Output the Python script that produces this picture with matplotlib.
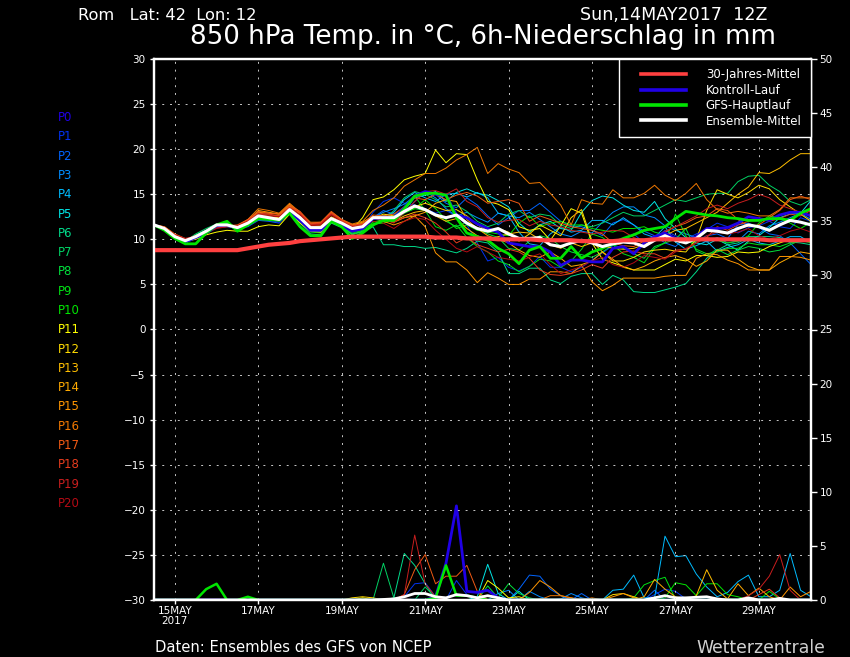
import numpy as np
import matplotlib
matplotlib.use('Agg')
import matplotlib.pyplot as plt
from matplotlib.lines import Line2D
from matplotlib.legend_handler import HandlerLine2D

# 6-hourly steps starting 14 May 2017 12Z
steps = np.arange(64)
date_ticks = [2, 10, 18, 26, 34, 42, 50, 58]
date_labels = ['15MAY\n2017', '17MAY', '19MAY', '21MAY', '23MAY', '25MAY', '27MAY', '29MAY']

member_names = ['P%d' % i for i in range(21)]
member_colors = ['#2000e6', '#0032f0', '#0064ff', '#008cff', '#00bcff', '#00e6e6', '#00dc8c',
                 '#00d264', '#00e13c', '#00e114', '#00e600', '#ffff00', '#ffdc00', '#ffbe00',
                 '#ffaa00', '#ff9600', '#f07800', '#f05a14', '#e63c1e', '#c81e1e', '#b40a14']

clim = [8.8, 8.8, 8.8, 8.8, 8.8, 8.8, 8.8, 8.8, 8.8, 9.0, 9.2, 9.4, 9.5, 9.6, 9.8, 9.9,
        10.0, 10.1, 10.2, 10.3, 10.3, 10.3, 10.3, 10.3, 10.3, 10.3, 10.3, 10.2, 10.2, 10.2, 10.1, 10.1,
        10.1, 10.0, 10.0, 10.0, 10.0, 9.9, 9.9, 9.9, 9.9, 9.8, 9.8, 9.8, 9.8, 9.9, 9.9, 9.9,
        10.0, 10.0, 10.0, 10.0, 10.0, 10.0, 10.0, 10.0, 10.0, 10.0, 10.0, 9.9, 9.9, 9.9, 9.9, 9.9]
mean = [11.6, 11.2, 10.3, 9.85, 10.3, 10.9, 11.6, 11.6, 11.3, 11.8, 12.6, 12.4, 12.2, 13.3, 12.4, 11.3,
        11.3, 12.3, 11.8, 11.2, 11.4, 12.4, 12.4, 12.4, 13.1, 13.7, 13.3, 12.7, 12.4, 12.7, 11.8, 11.2,
        10.9, 11.2, 10.6, 10.1, 10.1, 10.2, 9.4, 9.2, 9.6, 9.9, 9.6, 9.2, 9.5, 9.7, 9.6, 9.2,
        9.9, 10.4, 9.9, 9.6, 10.1, 11.0, 10.9, 10.7, 11.2, 11.6, 11.4, 11.0, 11.6, 12.1, 11.9, 11.6]
gfs = [11.6, 11.0, 10.1, 9.5, 9.5, 10.7, 11.6, 12.0, 10.9, 11.6, 12.3, 12.2, 12.1, 12.9, 11.4, 10.4,
       10.4, 12.0, 11.4, 10.1, 10.7, 11.6, 12.1, 12.1, 13.4, 14.8, 15.1, 15.1, 14.9, 12.4, 10.7, 10.3,
       9.9, 9.0, 8.4, 7.3, 8.8, 9.2, 7.9, 7.9, 9.2, 7.9, 8.6, 9.0, 9.6, 10.1, 10.5, 11.0,
       11.2, 11.4, 12.3, 13.1, 12.9, 12.7, 12.6, 12.4, 12.3, 12.1, 12.1, 12.3, 12.3, 12.1, 12.9, 13.4]
control = [11.6, 11.1, 10.2, 9.7, 10.2, 10.7, 11.5, 11.6, 11.2, 11.6, 12.3, 12.2, 12.0, 13.1, 12.1, 11.0,
           11.0, 12.1, 11.6, 10.9, 11.2, 12.3, 12.4, 12.4, 13.5, 14.8, 15.3, 15.0, 14.9, 12.7, 12.4, 11.7,
           11.2, 10.8, 9.6, 9.4, 9.2, 9.2, 8.6, 7.1, 7.7, 7.7, 7.5, 7.5, 9.0, 9.2, 8.4, 9.6,
           10.3, 10.7, 10.1, 9.7, 10.3, 11.2, 11.2, 11.3, 11.8, 12.5, 12.3, 12.1, 12.7, 13.0, 13.0, 12.6]

p1 = [11.6, 11.1, 10.2, 9.7, 10.1, 10.6, 11.4, 11.5, 11.2, 11.5, 12.2, 12.1, 11.9, 13.0, 12.1, 11.0, 10.9, 12.0, 11.5, 10.9, 11.2, 13.0,
      14.2, 14.6, 14.0, 13.8, 13.4, 12.9, 13.2, 12.6, 11.6, 9.6, 7.6, 8.0, 6.9, 6.5,
      7.0, 8.1, 6.9, 6.9, 6.4, 6.9, 7.7, 8.5, 9.3, 10.0, 10.6, 9.6, 10.1, 11.0,
      10.4, 10.0, 10.6, 11.1, 11.8, 11.4, 10.7, 11.3, 11.5, 12.0, 11.4, 11.2, 12.4, 12.0]
p2 = [11.6, 11.2, 10.2, 9.8, 10.1, 10.6, 11.3, 11.4, 11.2, 11.4, 12.1, 12.0, 11.8, 12.9, 12.0, 11.1, 11.0, 12.0, 11.5, 10.8, 11.1, 12.4,
      13.2, 12.8, 13.0, 14.2, 15.2, 15.0, 14.0, 13.5, 14.6, 13.8, 12.6, 11.6, 12.4, 13.2,
      13.2, 14.0, 13.0, 12.0, 11.5, 11.4, 11.0, 10.4, 11.8, 12.2, 11.6, 10.9, 10.4, 9.6,
      9.2, 10.2, 9.8, 10.4, 10.6, 10.1, 11.6, 11.8, 11.3, 10.6, 10.4, 9.6, 8.4, 7.2]
p3 = [11.6, 11.2, 10.3, 9.8, 10.2, 10.7, 11.4, 11.6, 11.3, 11.6, 12.2, 12.1, 12.0, 13.1, 12.2, 11.1, 11.1, 12.1, 11.6, 11.0, 11.3, 12.4,
      13.0, 13.4, 13.9, 14.8, 15.3, 14.6, 13.4, 12.6, 13.0, 12.4, 11.9, 12.9, 12.6, 12.4,
      13.0, 12.2, 11.4, 10.6, 10.3, 10.9, 10.7, 11.9, 13.0, 13.6, 13.6, 12.7, 12.4, 11.5,
      11.0, 10.6, 10.2, 9.7, 10.2, 9.6, 9.8, 10.9, 10.6, 11.5, 11.9, 12.4, 12.9, 12.2]
p4 = [11.6, 11.2, 10.2, 9.8, 10.3, 10.7, 11.5, 11.7, 11.3, 11.6, 12.3, 12.2, 12.1, 13.1, 12.3, 11.2, 11.2, 12.1, 11.7, 11.1, 11.2, 12.2,
      12.6, 13.0, 14.4, 15.2, 14.6, 14.2, 15.0, 15.1, 14.7, 15.2, 14.6, 12.9, 12.6, 10.8,
      9.5, 9.3, 10.6, 11.4, 10.8, 11.0, 12.1, 12.1, 11.6, 12.4, 11.6, 10.6, 10.2, 11.4,
      9.7, 8.9, 9.3, 9.8, 8.7, 9.1, 9.4, 10.0, 9.6, 9.4, 9.8, 10.3, 10.3, 9.6]
p5 = [11.6, 11.2, 10.3, 9.9, 10.4, 10.9, 11.6, 11.7, 11.3, 11.7, 12.4, 12.3, 12.2, 13.2, 12.3, 11.3, 11.2, 12.2, 11.7, 11.0, 11.2, 12.3,
      12.6, 12.4, 13.2, 14.6, 14.9, 15.3, 14.2, 15.2, 15.6, 15.1, 14.9, 14.3, 13.6, 11.8,
      10.8, 11.6, 12.0, 11.2, 11.0, 13.0, 14.3, 14.8, 14.6, 13.8, 13.2, 13.0, 14.2, 12.3,
      11.2, 10.2, 9.6, 9.4, 10.0, 9.4, 8.8, 9.8, 10.4, 11.3, 12.4, 12.8, 12.9, 14.3]
p6 = [11.6, 11.1, 10.2, 9.7, 10.5, 11.0, 11.5, 11.6, 11.0, 11.6, 12.3, 12.2, 12.0, 13.0, 11.8, 10.6, 10.5, 11.8, 11.3, 10.6, 10.8, 11.4,
      9.4, 9.4, 9.2, 9.2, 9.0, 9.1, 8.8, 8.5, 9.0, 9.8,
      9.6, 8.6, 6.2, 6.2, 6.8, 6.8, 5.5, 5.1, 5.9, 6.2, 6.2, 5.0, 6.0, 5.5, 4.2, 4.1,
      4.1, 4.4, 4.7, 5.1, 6.4, 7.9, 8.8, 9.4, 9.6, 10.3, 10.3, 10.3, 10.2, 9.7, 9.6, 9.4]
p7 = [11.6, 11.2, 10.2, 9.8, 10.6, 11.2, 11.7, 11.8, 11.1, 11.7, 12.5, 12.3, 12.2, 13.2, 12.2, 11.0, 10.9, 12.0, 11.5, 10.6, 10.9, 11.6,
      12.0, 13.2, 14.6, 15.3, 15.0, 14.4, 13.6, 13.8, 13.1, 12.0, 11.4, 11.8, 12.8, 13.2,
      12.4, 12.8, 12.6, 11.6, 11.2, 11.6, 11.4, 11.8, 12.4, 13.0, 12.6, 12.6, 13.2, 13.8,
      14.4, 14.2, 14.6, 15.0, 15.1, 15.1, 16.4, 17.0, 17.1, 16.0, 15.3, 14.2, 13.8, 14.4]
p8 = [11.6, 11.0, 10.1, 9.6, 10.2, 10.9, 11.5, 11.8, 11.2, 11.5, 12.2, 12.1, 12.0, 13.0, 11.9, 10.9, 10.8, 12.0, 11.4, 10.5, 10.9, 11.5,
      12.2, 12.0, 12.9, 13.4, 13.2, 12.8, 12.0, 11.4, 11.9, 11.1, 10.6, 10.2, 9.0, 8.8,
      9.8, 10.4, 10.1, 9.2, 8.6, 8.3, 8.0, 8.6, 9.4, 9.0, 8.4, 7.9, 9.2, 9.6,
      10.0, 11.2, 8.7, 8.2, 8.9, 8.3, 8.8, 9.2, 9.0, 8.6, 8.8, 9.4, 9.9, 9.8]
p9 = [11.6, 11.0, 10.1, 9.6, 10.1, 10.8, 11.5, 11.7, 11.1, 11.6, 12.4, 12.3, 12.1, 13.1, 12.1, 10.8, 10.7, 12.1, 11.5, 10.7, 11.0, 11.9,
      12.2, 12.6, 13.6, 14.8, 13.2, 11.4, 11.0, 11.6, 10.2, 9.2, 8.6, 7.6, 7.2, 6.4,
      7.0, 7.8, 7.6, 6.9, 7.6, 8.9, 10.6, 10.2, 9.4, 8.4, 8.0, 7.4, 9.0, 9.6,
      12.8, 10.4, 8.9, 8.4, 8.6, 9.0, 9.0, 9.6, 9.4, 9.4, 9.2, 9.6, 9.9, 9.6]
p10 = [11.6, 11.1, 10.2, 9.7, 10.2, 10.8, 11.5, 11.6, 11.3, 11.7, 12.6, 12.4, 12.2, 13.1, 12.2, 11.1, 11.0, 12.2, 11.6, 10.9, 11.2, 11.7,
       11.8, 12.2, 13.0, 13.4, 14.4, 13.4, 12.2, 11.2, 11.6, 11.0, 10.8, 10.6, 10.4, 11.8,
       12.6, 11.4, 11.8, 12.0, 11.6, 11.6, 11.2, 11.0, 10.8, 11.2, 11.2, 11.4, 10.8, 10.5,
       10.2, 9.6, 9.8, 10.2, 9.9, 9.6, 9.8, 10.4, 11.8, 12.6, 12.4, 11.8, 11.2, 11.9]
p11 = [11.6, 11.2, 10.3, 9.8, 10.0, 10.5, 10.8, 11.0, 10.9, 10.9, 11.4, 11.6, 11.5, 12.8, 11.8, 10.9, 10.8, 11.9, 11.4, 11.1, 12.4, 14.4,
       14.7, 15.5, 16.6, 17.0, 17.3, 19.9, 18.5, 19.5, 19.4, 16.6, 14.2, 13.9, 13.3, 11.4,
       11.0, 11.2, 9.9, 11.5, 13.4, 12.9, 9.6, 7.8, 7.4, 7.0, 6.6, 6.6, 6.6, 7.2,
       7.8, 7.6, 8.2, 8.2, 8.0, 8.1, 8.6, 8.5, 8.6, 9.2, 9.6, 10.0, 9.8, 9.8]
p12 = [11.6, 11.2, 10.3, 9.9, 10.3, 10.8, 11.4, 11.5, 11.2, 11.7, 12.5, 12.5, 12.4, 13.4, 12.5, 11.3, 11.3, 12.3, 11.8, 11.3, 11.7, 12.3,
       12.8, 12.6, 13.0, 13.6, 14.0, 13.6, 13.2, 13.3, 12.6, 11.6, 11.0, 11.2, 10.8, 9.8,
       10.6, 11.6, 11.0, 10.4, 12.4, 13.3, 9.8, 8.6, 7.6, 7.6, 8.0, 8.6, 8.8, 8.9,
       8.7, 8.6, 10.0, 13.2, 15.5, 15.0, 14.6, 15.2, 16.0, 15.6, 14.4, 13.6, 12.8, 12.0]
p13 = [11.6, 11.2, 10.4, 9.9, 10.4, 10.9, 11.5, 11.6, 11.4, 11.9, 12.7, 12.7, 12.6, 13.6, 12.6, 11.5, 11.5, 12.5, 12.0, 11.4, 11.5, 12.5,
       12.4, 12.0, 12.6, 13.0, 13.2, 12.6, 12.0, 12.3, 11.2, 10.4, 10.0, 10.3, 10.6, 10.8,
       10.7, 10.0, 9.4, 9.0, 9.6, 9.2, 9.6, 9.3, 9.0, 8.9, 9.0, 9.4, 10.0, 10.4,
       11.0, 11.2, 11.8, 12.4, 13.0, 14.0, 15.0, 15.8, 17.4, 17.3, 17.9, 18.8, 19.5, 19.5]
p14 = [11.6, 11.3, 10.4, 9.9, 10.3, 10.8, 11.4, 11.6, 11.5, 12.0, 13.2, 13.0, 12.8, 13.9, 12.8, 11.7, 11.7, 12.8, 12.1, 11.6, 11.9, 12.6,
       12.2, 11.9, 12.4, 12.6, 13.0, 14.0, 14.4, 14.2, 12.2, 11.2, 10.4, 10.0, 9.6, 8.8,
       8.2, 8.0, 8.6, 7.9, 7.0, 7.2, 7.6, 8.6, 7.8, 6.9, 6.6, 7.0, 7.6, 8.0,
       8.2, 7.8, 7.0, 7.6, 8.8, 8.8, 7.8, 7.0, 6.6, 6.6, 7.4, 8.0, 8.6, 8.4]
p15 = [11.6, 11.3, 10.5, 10.0, 10.3, 10.8, 11.5, 11.6, 11.5, 12.1, 13.0, 12.9, 12.8, 13.7, 12.9, 11.7, 11.8, 12.9, 12.1, 11.5, 11.8, 12.4,
       12.0, 11.6, 12.0, 12.6, 11.4, 8.5, 7.5, 7.5, 6.6, 5.2,
       6.3, 5.7, 5.0, 5.0, 5.6, 5.6, 6.4, 6.4, 6.2, 7.1, 5.3, 4.3, 4.9, 5.7, 5.7, 5.7,
       5.7, 5.9, 6.0, 6.0, 7.9, 8.4, 8.3, 7.7, 7.3, 6.6, 6.6, 6.6, 8.1, 8.1, 8.0, 7.7]
p16 = [11.6, 11.4, 10.5, 10.0, 10.3, 10.7, 11.4, 11.5, 11.5, 12.2, 13.4, 13.2, 12.9, 14.0, 13.0, 11.9, 11.9, 13.0, 12.2, 11.7, 12.0, 13.2,
       13.8, 14.6, 15.9, 16.6, 17.3, 17.3, 17.9, 18.8, 19.4, 20.2, 17.3, 18.4,
       17.8, 17.4, 16.2, 16.3, 15.1, 13.8, 11.6, 14.4, 14.0, 13.9, 15.5, 14.6, 14.6, 15.1, 16.0, 14.9,
       14.3, 15.1, 16.2, 14.4, 13.3, 12.9, 13.1, 12.9, 12.6, 12.6, 13.3, 14.6, 14.6, 14.6]
p17 = [11.6, 11.4, 10.6, 10.1, 10.2, 10.7, 11.3, 11.5, 11.6, 12.2, 13.1, 12.9, 12.8, 13.8, 13.1, 11.8, 11.9, 13.1, 12.2, 11.6, 11.7, 12.7,
       12.6, 12.8, 13.6, 14.6, 14.4, 15.0, 14.4, 14.9, 15.2, 14.8, 14.0, 14.2, 14.4, 14.0,
       12.0, 12.6, 12.2, 11.8, 11.4, 11.2, 11.0, 10.6, 9.6, 9.3, 9.2, 9.8, 10.2, 10.8,
       11.4, 11.8, 12.4, 12.6, 13.4, 13.2, 12.2, 11.4, 11.6, 12.4, 13.2, 14.4, 14.8, 14.4]
p18 = [11.6, 11.3, 10.5, 10.0, 10.4, 10.8, 11.3, 11.5, 11.5, 12.1, 12.9, 12.8, 12.6, 13.6, 13.0, 11.7, 11.8, 12.9, 12.1, 11.5, 11.7, 12.5,
       12.4, 12.0, 12.4, 12.8, 12.4, 11.8, 10.8, 9.6, 10.2, 9.4, 9.0, 8.6, 8.9, 8.6,
       7.9, 6.6, 6.1, 6.0, 6.2, 6.6, 7.2, 6.8, 8.0, 8.6, 8.7, 8.4, 8.4, 7.9,
       8.8, 8.9, 9.6, 10.2, 11.4, 11.0, 11.6, 12.0, 12.4, 12.0, 12.3, 12.8, 12.6, 13.2]
p19 = [11.6, 11.3, 10.4, 10.0, 10.4, 10.8, 11.3, 11.4, 11.4, 12.0, 12.8, 12.7, 12.5, 13.5, 12.8, 11.6, 11.7, 12.8, 12.0, 11.4, 11.6, 12.3,
       12.2, 11.8, 13.0, 14.2, 15.3, 15.4, 15.0, 15.6, 14.2, 13.6, 12.4, 11.9, 12.1, 12.2,
       11.5, 12.0, 11.6, 11.4, 11.0, 10.8, 10.6, 10.8, 11.0, 10.9, 10.2, 9.8, 10.0, 10.9,
       11.4, 12.0, 12.6, 13.4, 13.8, 13.4, 14.0, 14.4, 15.0, 14.6, 13.8, 13.4, 13.0, 13.2]
p20 = [11.6, 11.3, 10.5, 10.1, 10.3, 10.7, 11.2, 11.4, 11.5, 12.0, 12.7, 12.6, 12.5, 13.4, 12.7, 11.5, 11.6, 12.7, 11.9, 11.4, 11.5, 12.0,
       11.8, 11.2, 12.0, 12.4, 12.2, 11.0, 10.0, 9.0, 8.6, 9.2, 8.6, 8.0, 7.8, 7.6,
       8.0, 8.4, 7.2, 6.2, 6.6, 7.0, 7.6, 8.0, 7.2, 6.9, 7.4, 8.2, 8.0, 7.8,
       8.6, 9.0, 9.6, 10.4, 10.8, 10.6, 10.8, 11.2, 10.4, 10.0, 10.4, 10.9, 11.2, 10.8]
temps = [p1, p2, p3, p4, p5, p6, p7, p8, p9, p10, p11, p12, p13, p14, p15, p16, p17, p18, p19, p20]

# 6h precipitation, only the steps where it is not zero
control_rain = {27: 0.3, 28: 3.4, 29: 8.7, 30: 0.8, 31: 0.7, 32: 0.9, 33: 0.2}
gfs_rain = {5: 1.0, 6: 1.5, 9: 0.3, 27: 0.2, 28: 3.2, 29: 0.4, 30: 0.4, 31: 0.2}
mean_rain = {22: 0.05, 23: 0.1, 24: 0.3, 25: 0.6, 26: 0.6, 27: 0.3, 28: 0.2, 29: 0.5, 30: 0.4, 31: 0.2,
             32: 0.4, 33: 0.2, 48: 0.2, 49: 0.4, 50: 0.2, 51: 0.2, 52: 0.25, 53: 0.3, 54: 0.1, 57: 0.2, 60: 0.15}
rains = [
    {24: 0.3, 25: 1.5, 26: 1.6, 27: 0.3, 29: 1.8, 30: 0.5, 31: 0.2, 48: 0.5, 49: 1.0, 50: 0.8, 51: 0.1},
    {35: 1.0, 36: 2.3, 37: 2.2, 38: 1.0, 39: 0.4, 41: 0.6, 48: 0.9},
    {33: 0.6, 34: 0.9, 36: 0.8, 37: 0.3, 39: 0.1, 40: 0.6, 41: 0.2},
    {44: 0.9, 45: 1.0, 46: 2.3, 47: 0.2, 48: 0.2, 49: 5.9, 50: 4.0, 51: 4.1, 52: 2.4, 53: 1.2, 54: 0.3,
     55: 0.7, 56: 1.7, 57: 2.3, 58: 0.3, 59: 0.3, 60: 0.9, 61: 4.3, 62: 0.9, 63: 0.3},
    {31: 0.3, 32: 3.3, 33: 0.6, 35: 0.8},
    {23: 0.2, 24: 4.3, 25: 3.2, 26: 1.5},
    {22: 3.4, 23: 0.2, 26: 1.2, 27: 0.2},
    {32: 1.3, 33: 0.2, 34: 1.5, 35: 0.6, 36: 0.2},
    {46: 0.2, 47: 1.4, 48: 1.8, 49: 2.1, 50: 0.1},
    {49: 0.2, 50: 1.6, 51: 1.4, 52: 0.4, 53: 1.5, 54: 1.5, 55: 0.5, 56: 0.3, 59: 0.8, 60: 0.1},
    {20: 0.2, 32: 1.8, 33: 1.1, 34: 0.2, 35: 0.3},
    {19: 0.2, 20: 0.3, 21: 0.2, 37: 0.1, 44: 0.5, 45: 0.6, 46: 0.3},
    {52: 0.4, 53: 2.8, 54: 0.9, 55: 0.1, 60: 0.2},
    {47: 0.3, 48: 1.9, 49: 1.0, 50: 0.3, 55: 0.1, 56: 1.5, 57: 0.4, 58: 1.1, 59: 0.3},
    {36: 0.7, 37: 1.8, 38: 1.2, 39: 0.4, 40: 0.2, 44: 0.3, 45: 0.6, 46: 0.2, 61: 1.2, 62: 0.3, 63: 0.8},
    {38: 0.4, 39: 0.4, 40: 0.2, 42: 0.2},
    {24: 0.5, 25: 2.8, 26: 4.2, 27: 1.5, 28: 2.2, 29: 2.2, 30: 3.2, 31: 0.8},
    {41: 0.1, 58: 0.5, 59: 1.0, 60: 0.2},
    {24: 0.5, 25: 6.0, 26: 1.5, 27: 0.3, 57: 0.4, 58: 1.0, 59: 2.2, 60: 4.2, 61: 0.9},
    {24: 0.2},
]


def rain_series(sparse):
    y = np.zeros(len(steps))
    for k, v in sparse.items():
        y[k] = v
    return y


plt.rcParams['font.family'] = ['DejaVu Sans']

W, H = 850, 657
fig = plt.figure(figsize=(W / 100, H / 100), dpi=100, facecolor='black')
ax2 = fig.add_axes([154 / W, 1 - 600 / H, (811 - 154) / W, (600 - 59) / H], facecolor='black')
ax = fig.add_axes(ax2.get_position(), facecolor='none')
ax.set_zorder(ax2.get_zorder() + 1)

# precipitation on the right axis
thin = dict(lw=0.7, antialiased=True)
for sparse, c in zip(rains, member_colors[1:]):
    ax2.plot(steps, rain_series(sparse), color=c, **thin)
ax2.plot(steps, rain_series(control_rain), color='#2000e6', lw=2.0)
ax2.plot(steps, rain_series(gfs_rain), color='#00e600', lw=1.8)
ax2.plot(steps, rain_series(mean_rain), color='white', lw=2.0)

# temperature on the left axis
for t, c in zip(temps, member_colors[1:]):
    ax.plot(steps, t, color=c, **thin)
ax.plot(steps, control, color='#2000e6', lw=2.0, label='Kontroll-Lauf')
ax.plot(steps, gfs, color='#00e600', lw=2.0, label='GFS-Hauptlauf')
ax.plot(steps, mean, color='white', lw=2.2, label='Ensemble-Mittel')
ax.plot(steps, clim, color='#ff4040', lw=3.0, label='30-Jahres-Mittel')

ax.set_xlim(0, 63)
ax.set_ylim(-30, 30)
ax2.set_xlim(0, 63)
ax2.set_ylim(0, 50)

ax.set_xticks(date_ticks)
ax.set_xticklabels(date_labels, linespacing=1.05)
ax.set_yticks(np.arange(-30, 31, 5))
ax2.set_xticks([])
ax2.yaxis.tick_right()
ax2.set_yticks(np.arange(0, 51, 5))
ax.tick_params(axis='y', colors='white', labelsize=7.5, length=3, width=1, pad=3)
ax.tick_params(axis='x', colors='white', labelsize=7.5, length=3, width=1, pad=1)
ax2.tick_params(colors='white', labelsize=7.5, length=4, width=1, pad=2)
ax.grid(True, color='#c8c8c8', linestyle=(0, (2, 6)), lw=0.7)
ax.set_axisbelow(True)

for a in (ax, ax2):
    for s in a.spines.values():
        s.set_color('white')
        s.set_linewidth(1.6)

handles, labels = ax.get_legend_handles_labels()
order = [3, 0, 1, 2]
leg = ax.legend([handles[i] for i in order], [labels[i] for i in order],
                handler_map={Line2D: HandlerLine2D(marker_pad=1.1, numpoints=2)},
                loc='upper right', bbox_to_anchor=(1.0, 1.0), borderaxespad=0,
                fontsize=8.5, labelcolor='white', facecolor='black', edgecolor='white',
                framealpha=1, fancybox=False, handlelength=6.0, handletextpad=0.55,
                labelspacing=0.2, borderpad=0.8)
leg.get_frame().set_linewidth(1.0)
for line in leg.get_lines():
    line.set_linewidth(2.6)

# left column with member names
for i, (name, c) in enumerate(zip(member_names, member_colors)):
    fig.text(58 / W, 1 - round(121 + 19.3 * i) / H, name, color=c, fontsize=8.5, va='baseline', ha='left')

fig.text(78 / W, 1 - 15 / H, 'Rom   Lat: 42  Lon: 12', color='white', fontsize=11.7, va='center')
fig.text(580 / W, 1 - 15 / H, 'Sun,14MAY2017  12Z', color='white', fontsize=12.6, va='center')
fig.text(190 / W, 1 - 37 / H, '850 hPa Temp. in °C, 6h-Niederschlag in mm', color='white',
         fontsize=18.8, va='center')
fig.text(155 / W, 1 - 647 / H, 'Daten: Ensembles des GFS von NCEP', color='white', fontsize=10.6, va='center')
fig.text(696 / W, 1 - 648 / H, 'Wetterzentrale', color='#d0d0d0', fontsize=12.4, va='center')

plt.savefig('out.png', dpi=100, facecolor='black')
